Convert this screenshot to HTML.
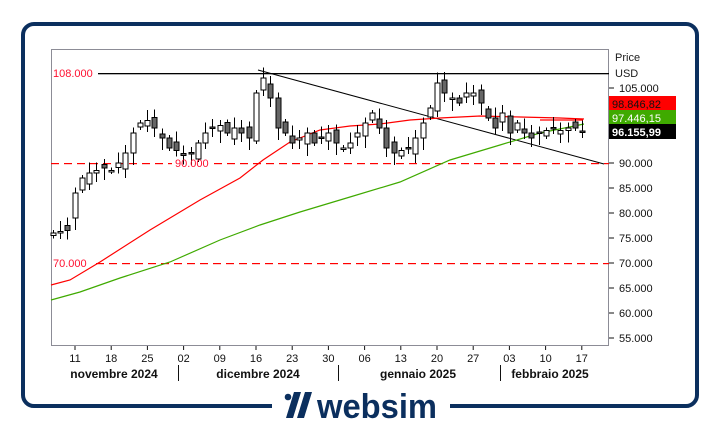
<!DOCTYPE html>
<html><head><meta charset="utf-8"><style>
html,body{margin:0;padding:0;background:#fff;width:720px;height:428px;overflow:hidden}
svg{display:block}
text{font-family:"Liberation Sans",Arial,sans-serif}
</style></head><body>
<svg id="s" width="720" height="428" viewBox="0 0 720 428" xmlns="http://www.w3.org/2000/svg">
<rect x="23" y="24" width="674" height="382" rx="11" fill="none" stroke="#0b2f5e" stroke-width="4"/>
<rect x="272" y="395" width="178" height="30" fill="#fff"/>
<rect x="51.5" y="49.5" width="557" height="296" fill="#fff" stroke="#8c8c96" stroke-width="1"/>
<rect x="98" y="73" width="511" height="1.3" fill="#000"/>
<g id="dash"></g>
<line x1="258" y1="70" x2="604" y2="164" stroke="#000" stroke-width="1"/>
<g id="c"></g>
<g font-size="11" fill="#1a1a1a">
<text x="615" y="61">Price</text>
<text x="615" y="77">USD</text>
</g>
<g id="ax" font-size="11" fill="#111"></g>
<rect x="609" y="96" width="67" height="15" fill="#ff0000"/>
<text x="612" y="108" font-size="11" fill="#111">98.846,82</text>
<rect x="609" y="110" width="67" height="15" fill="#3faa00"/>
<text x="612" y="122" font-size="11" fill="#fff">97.446,15</text>
<rect x="609" y="124" width="67" height="15" fill="#000"/>
<text x="612" y="136" font-size="11" fill="#fff" font-weight="bold">96.155,99</text>
<g font-size="11" fill="#ff1030">
<text x="53" y="77">108.000</text>
<text x="175" y="167">90.000</text>
<text x="53" y="267">70.000</text>
</g>
<g font-size="11" fill="#111" text-anchor="middle" id="days"></g>
<g font-size="12" font-weight="bold" fill="#111" text-anchor="middle">
<text x="114" y="378">novembre 2024</text>
<text x="258" y="378">dicembre 2024</text>
<text x="418" y="378">gennaio 2025</text>
<text x="550" y="378">febbraio 2025</text>
</g>
<g stroke="#111" stroke-width="1">
<line x1="178.5" y1="365" x2="178.5" y2="381"/>
<line x1="338.5" y1="365" x2="338.5" y2="381"/>
<line x1="500.5" y1="365" x2="500.5" y2="381"/>
</g>
<circle cx="288" cy="397" r="3.3" fill="#0b2f5e"/>
<polygon points="294,392 301,392 293,418 286,418" fill="#0b2f5e"/>
<polygon points="305,392 312,392 304,418 297,418" fill="#0b2f5e"/>
<text x="317" y="418" font-size="34" font-weight="bold" fill="#0b2f5e" textLength="120" lengthAdjust="spacingAndGlyphs">websim</text>
</svg>
<script>
var NS="http://www.w3.org/2000/svg";
function el(p,t,a){var e=document.createElementNS(NS,t);for(var k in a)e.setAttribute(k,a[k]);p.appendChild(e);return e;}
function Y(v){return 88+(105-v)*5;}
var c=document.getElementById('c'),ax=document.getElementById('ax'),ds=document.getElementById('dash');
function dash(x0,x1,y){for(var x=x0;x<x1;x+=13){el(ds,'rect',{x:x,y:y,width:Math.min(8,x1-x),height:1.2,fill:'#ff0000'});}}
dash(51,172,163);dash(214,609,163);dash(96,609,263);
[105,90,85,80,75,70,65,60,55].forEach(function(v){var y=Y(v);
el(ax,'line',{x1:609,y1:y,x2:614,y2:y,stroke:'#111'});
var t=el(ax,'text',{x:619,y:y+4});t.textContent=v+'.000';});
var dl=['11','18','25','02','09','16','23','30','06','13','20','27','03','10','17'];
var dg=document.getElementById('days');
dl.forEach(function(d,i){var x=75+i*36.2;var t=el(dg,'text',{x:x,y:362});t.textContent=d;
el(dg,'line',{x1:x,y1:346,x2:x,y2:350,stroke:'#111'});});
var cl=[76,76.3,76.5,84,87,88,88.5,89,88.5,90,92,96,98,98.5,97,95,93,92.5,
91.5,92,94,96,97,97.5,96,97,96,95,104,107,103,97,96,94,95,96,94,95,96,94,
93,94,96,98,100,97,93,92,92.5,93,95,98,101,106,104,103,102,104,104,102,99,97,100,
96,98,96,95,96,96.5,97,96.5,97,97,96.2];
var n=cl.length,dx=(582-53)/(n-1);
var ma1=[[51,285],[70,280],[100,262],[150,230],[200,200],[240,178],[263,160],[290,142],[320,130],[350,126],[380,124],[410,120],[440,118],[480,116],[520,117],[560,118],[584,119]];
var ma2=[[51,300],[80,292],[120,278],[170,262],[220,240],[260,225],[300,212],[350,197],[400,182],[450,160],[500,145],[540,133],[584,124]];
el(c,'polyline',{points:ma1.join(' '),fill:'none',stroke:'#ff0000','stroke-width':1.2});
el(c,'polyline',{points:ma2.join(' '),fill:'none',stroke:'#3faa00','stroke-width':1.2});
el(c,'line',{x1:540,y1:120,x2:583,y2:120,stroke:'#ff0000','stroke-width':1.2});
for(var i=0;i<n;i++){
 var x=Math.round(53+i*dx)+0.5;
 var cv=cl[i];
 var ov=i==0?75.5:cl[i-1]+((i*7)%5-2)*0.6;
 if(i==3)ov=79;
 var hi=Math.max(ov,cv)+0.6+((i*3)%4)*0.5, lo=Math.min(ov,cv)-0.6-((i*5)%4)*0.6;
 el(c,'line',{x1:x,y1:Y(hi),x2:x,y2:Y(lo),stroke:'#000'});
 var yt=Y(Math.max(ov,cv)),yb=Y(Math.min(ov,cv));if(yb-yt<1.5)yb=yt+1.5;
 el(c,'rect',{x:x-2.5,y:yt,width:5,height:yb-yt,fill:cv>=ov?'#fff':'#666',stroke:'#000','stroke-width':1});
}
</script>
</body></html>
